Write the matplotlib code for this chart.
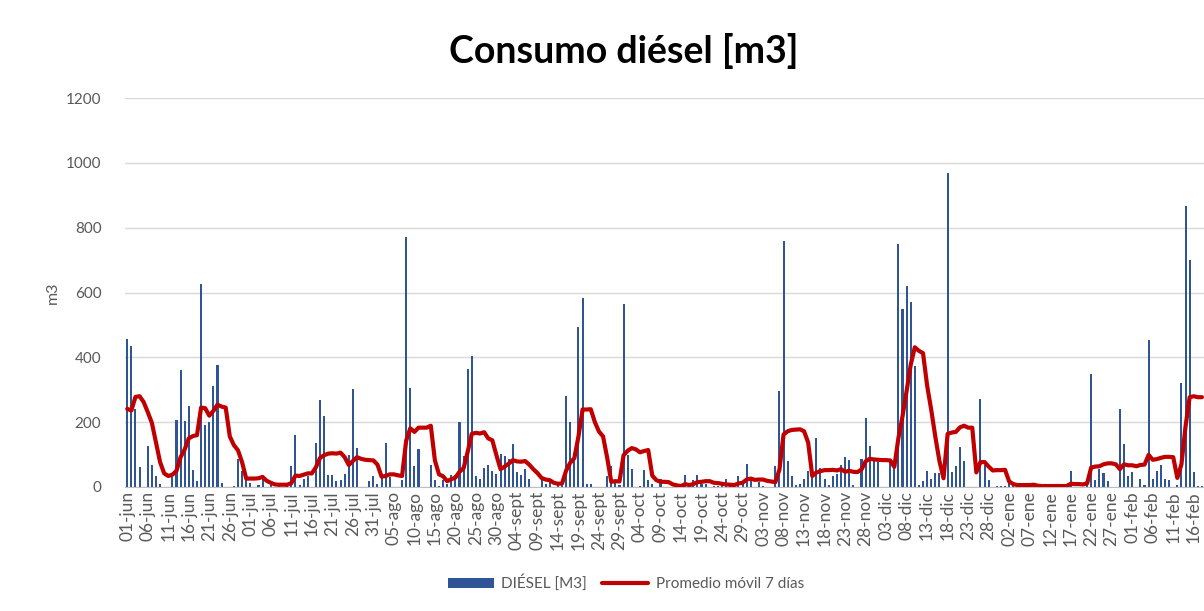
import numpy as np
import matplotlib
matplotlib.use("Agg")
import matplotlib.pyplot as plt

plt.rcParams['font.family'] = ['Lato', 'DejaVu Sans']

# consumo diario de diesel [m3], 01-jun .. 20-feb
diesel = [
    457, 434, 240, 62, 0, 125, 67, 33, 10, 0,
    0, 31, 208, 360, 203, 249, 51, 20, 625, 190,
    200, 313, 377, 13, 0, 0, 2, 87, 50, 31,
    13, 0, 7, 31, 0, 7, 0, 5, 0, 5,
    64, 161, 5, 26, 33, 0, 137, 267, 218, 38,
    38, 20, 23, 41, 100, 301, 121, 0, 0, 20,
    33, 10, 40, 137, 31, 0, 0, 23, 770, 305,
    64, 116, 0, 0, 69, 23, 2, 23, 10, 38,
    36, 200, 95, 363, 404, 34, 26, 60, 69, 49,
    41, 103, 96, 87, 134, 46, 38, 57, 26, 0,
    0, 31, 8, 23, 0, 10, 5, 280, 200, 105,
    493, 583, 8, 8, 0, 0, 0, 33, 64, 20,
    5, 563, 100, 57, 0, 3, 51, 23, 10, 0,
    24, 0, 0, 0, 0, 0, 38, 5, 23, 38,
    10, 10, 0, 3, 3, 5, 26, 5, 3, 33,
    15, 72, 26, 0, 15, 3, 0, 0, 64, 295,
    760, 79, 33, 5, 8, 26, 49, 41, 152, 60,
    26, 7, 33, 41, 67, 93, 84, 5, 0, 87,
    214, 125, 80, 78, 0, 0, 80, 70, 751, 550,
    620, 570, 374, 6, 20, 50, 24, 44, 42, 0,
    968, 45, 66, 122, 79, 0, 0, 0, 271, 67,
    22, 0, 3, 3, 3, 20, 10, 3, 3, 3,
    2, 5, 0, 3, 5, 2, 3, 5, 2, 3,
    49, 0, 0, 0, 20, 349, 23, 57, 43, 20,
    0, 0, 240, 132, 33, 46, 0, 26, 5, 452,
    26, 49, 69, 26, 23, 0, 5, 321, 866, 700,
    46, 2, 2,
]

# promedio movil 7 dias (linea roja)
promedio = [
    241, 236, 278, 280, 262, 231, 198, 137, 77, 42,
    34, 38, 50, 92, 116, 150, 157, 160, 245, 243,
    220, 235, 254, 248, 245, 156, 129, 113, 76, 26,
    26, 26, 27, 31, 19, 13, 8, 7, 7, 7,
    12, 35, 34, 38, 42, 42, 61, 90, 98, 103,
    104, 103, 106, 92, 68, 80, 92, 87, 84, 83,
    82, 69, 32, 34, 39, 39, 36, 34, 143, 181,
    170, 183, 183, 183, 189, 82, 39, 33, 18, 24,
    29, 47, 58, 109, 164, 167, 165, 169, 150, 144,
    98, 55, 63, 72, 83, 79, 78, 80, 69, 55,
    43, 28, 23, 21, 13, 10, 11, 51, 75, 89,
    156, 239, 239, 240, 200, 171, 156, 90, 16, 18,
    17, 98, 112, 120, 116, 107, 111, 114, 35, 21,
    16, 16, 15, 8, 5, 3, 9, 6, 9, 15,
    16, 18, 18, 13, 12, 10, 8, 7, 6, 11,
    13, 23, 26, 22, 23, 23, 19, 17, 15, 54,
    162, 172, 176, 177, 178, 172, 137, 34, 45, 49,
    52, 52, 53, 51, 55, 47, 50, 47, 46, 54,
    79, 87, 85, 84, 83, 83, 82, 62, 151, 218,
    296, 377, 431, 420, 413, 313, 238, 155, 80, 27,
    164, 168, 170, 184, 189, 183, 183, 45, 77, 77,
    63, 51, 52, 52, 53, 17, 9, 6, 6, 6,
    6, 7, 4, 3, 3, 3, 3, 3, 3, 3,
    10, 9, 9, 8, 11, 60, 63, 64, 70, 73,
    73, 70, 55, 70, 67, 67, 64, 68, 69, 99,
    84, 86, 90, 93, 93, 92, 28, 70, 187, 277,
    280, 277, 277,
]

etiquetas = [
    "01-jun", "06-jun", "11-jun", "16-jun", "21-jun", "26-jun",
    "01-jul", "06-jul", "11-jul", "16-jul", "21-jul", "26-jul", "31-jul",
    "05-ago", "10-ago", "15-ago", "20-ago", "25-ago", "30-ago",
    "04-sept", "09-sept", "14-sept", "19-sept", "24-sept", "29-sept",
    "04-oct", "09-oct", "14-oct", "19-oct", "24-oct", "29-oct",
    "03-nov", "08-nov", "13-nov", "18-nov", "23-nov", "28-nov",
    "03-dic", "08-dic", "13-dic", "18-dic", "23-dic", "28-dic",
    "02-ene", "07-ene", "12-ene", "17-ene", "22-ene", "27-ene",
    "01-feb", "06-feb", "11-feb", "16-feb",
]

gris = '#595959'
fig = plt.figure(figsize=(12.04, 6.11), dpi=100)
ax = fig.add_axes([125 / 1204, 124 / 611, 1 - 125 / 1204, 389 / 611])

x = np.arange(len(diesel))
barras = ax.bar(x, diesel, width=0.5, color='#2f5597', label='DIÉSEL [M3]', zorder=2)
linea, = ax.plot(x, promedio, color='#c00000', lw=3, label='Promedio móvil 7 días',
                 zorder=3, solid_joinstyle='round', solid_capstyle='round')

ax.set_xlim(-0.55, 262.5)
ax.set_ylim(0, 1200)
ax.set_yticks(range(0, 1201, 200))
ax.grid(axis='y', color='#d9d9d9', lw=1)
ax.set_axisbelow(True)
for side in ['top', 'right', 'left']:
    ax.spines[side].set_visible(False)
ax.spines['bottom'].set_color('#bfbfbf')
ax.tick_params(axis='both', length=0, colors=gris, labelsize=11)
ax.tick_params(axis='y', pad=17)
ax.tick_params(axis='x', pad=3, labelsize=12.5)
ax.set_xticks(range(0, 5 * len(etiquetas), 5))
ax.set_xticklabels(etiquetas, rotation=90)
ax.set_ylabel('m3', color=gris, fontsize=11.5, labelpad=4)

fig.text(624 / 1204, 1 - 51 / 611, 'Consumo diésel [m3]', ha='center', va='center',
         fontsize=27, fontweight='bold', color='black')

fig.legend([barras, linea], ['DIÉSEL [M3]', 'Promedio móvil 7 días'],
           loc='center', bbox_to_anchor=(626 / 1204, 1 - 583 / 611), ncol=2,
           frameon=False, fontsize=11, labelcolor=gris, handlelength=3.0,
           handletextpad=0.5, columnspacing=1.0)

fig.savefig('out.png', dpi=100)
